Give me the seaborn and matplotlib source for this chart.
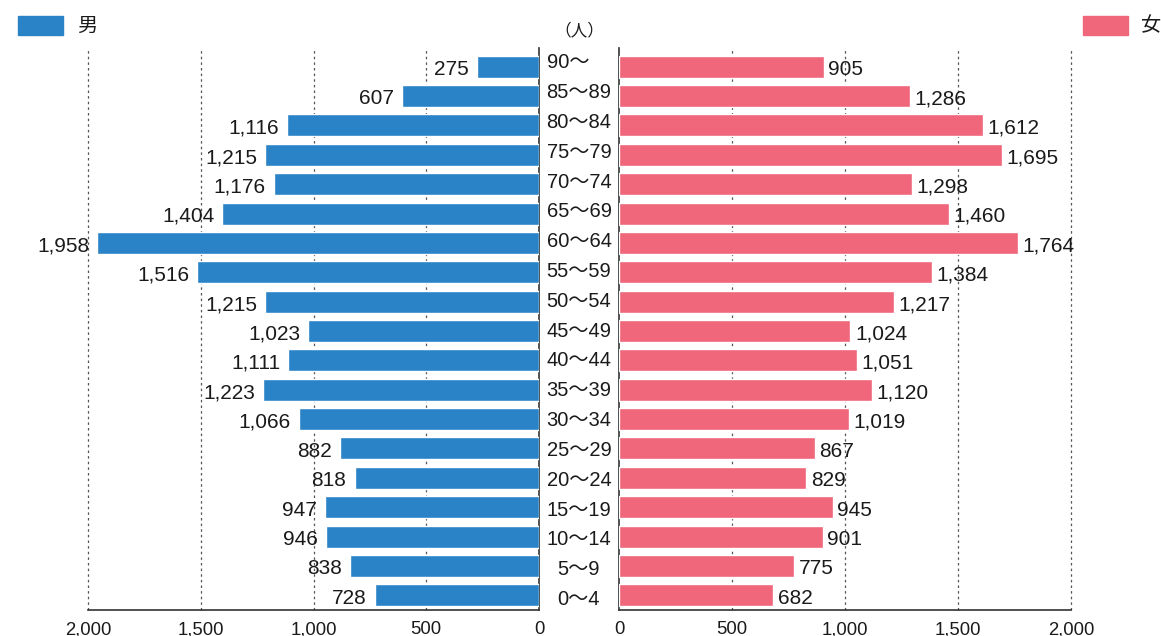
import matplotlib
matplotlib.use("Agg")
import matplotlib.pyplot as plt
import seaborn as sns
import pandas as pd
from matplotlib.patches import Rectangle
from matplotlib.ticker import FuncFormatter

ages = ["90～", "85～89", "80～84", "75～79", "70～74", "65～69", "60～64", "55～59",
        "50～54", "45～49", "40～44", "35～39", "30～34", "25～29", "20～24", "15～19",
        "10～14", "5～9", "0～4"]
male = [275, 607, 1116, 1215, 1176, 1404, 1958, 1516, 1215, 1023, 1111, 1223, 1066,
        882, 818, 947, 946, 838, 728]
female = [905, 1286, 1612, 1695, 1298, 1460, 1764, 1384, 1217, 1024, 1051, 1120, 1019,
          867, 829, 945, 901, 775, 682]
ticks = [0, 500, 1000, 1500, 2000]

sns.set_theme(style="white")
FAM = ["Liberation Sans", "Noto Sans CJK JP", "DejaVu Sans"]
plt.rcParams["font.family"] = FAM

BLUE = "#2a83c6"
PINK = "#f0667b"
TXT = "#1a1a1a"

W, H = 1161, 636
TOP, BOT = 52, 610
fig = plt.figure(figsize=(W / 100, H / 100), dpi=100)

def rect(x0, y0, x1, y1):
    return [x0 / W, 1 - y1 / H, (x1 - x0) / W, (y1 - y0) / H]

axL = fig.add_axes(rect(88, TOP, 539, BOT))
axR = fig.add_axes(rect(619, TOP, 1071, BOT))

dfm = pd.DataFrame({"age": ages, "v": male})
dff = pd.DataFrame({"age": ages, "v": female})

sns.barplot(data=dfm, x="v", y="age", order=ages, color=BLUE, saturation=1,
            width=0.75, ax=axL, zorder=3)
sns.barplot(data=dff, x="v", y="age", order=ages, color=PINK, saturation=1,
            width=0.75, ax=axR, zorder=3)

fmt = FuncFormatter(lambda v, p: f"{int(v):,}")
top_ext = -0.5 - 4 / ((BOT - TOP) / len(ages))
for ax, vals, side in ((axL, male, "L"), (axR, female, "R")):
    ax.set_xlim(0, 2000)
    ax.set_xticks(ticks)
    ax.xaxis.set_major_formatter(fmt)
    ax.set_yticks([])
    ax.set_xlabel("")
    ax.set_ylabel("")
    ax.set_ylim(len(ages) - 0.5, -0.5)
    for s in ax.spines.values():
        s.set_visible(False)
    ax.spines["bottom"].set_visible(True)
    ax.spines["bottom"].set_color("#333333")
    ax.spines["bottom"].set_linewidth(1.2)
    ax.tick_params(axis="x", length=0, pad=8, labelsize=13.3, colors=TXT)
    for t in ticks[1:]:
        ax.plot([t, t], [len(ages) - 0.5, top_ext], color="#555555", lw=0.9,
                ls=(0, (2, 2.5)), zorder=1, clip_on=False)
    for i, v in enumerate(vals):
        if side == "L":
            ax.text(v + 36, i + 0.1, f"{v:,}", ha="right", va="center",
                    fontsize=15, color=TXT)
        else:
            ax.text(v + 20, i + 0.1, f"{v:,}", ha="left", va="center",
                    fontsize=15, color=TXT)

axL.invert_xaxis()
for ax, sp in ((axL, "right"), (axR, "left")):
    ax.spines[sp].set_visible(True)
    ax.spines[sp].set_color("#333333")
    ax.spines[sp].set_linewidth(1.2)
    ax.spines[sp].set_bounds(len(ages) - 0.5, top_ext)

# age labels in the centre column
for i, a in enumerate(ages):
    y_pix = 63 + i * 29.8
    if a.endswith("～"):
        fig.text(547 / W, 1 - y_pix / H, a, ha="left", va="center",
                 fontsize=14.5, color=TXT, family=FAM)
    else:
        fig.text(579 / W, 1 - y_pix / H, a, ha="center", va="center",
                 fontsize=14.5, color=TXT, family=FAM)

fig.text(579 / W, 1 - 31 / H, "（人）", ha="center", va="center",
         fontsize=12, color=TXT, family=["Noto Sans CJK JP", "DejaVu Sans"])

# legends
fig.patches.append(Rectangle((18 / W, 1 - 35 / H), 45 / W, 19 / H,
                             transform=fig.transFigure, color=BLUE))
fig.text(77 / W, 1 - 26 / H, "男", ha="left", va="center", fontsize=14.5,
         color=TXT, family=["Noto Sans CJK JP", "DejaVu Sans"])
fig.patches.append(Rectangle((1083 / W, 1 - 35 / H), 45 / W, 19 / H,
                             transform=fig.transFigure, color=PINK))
fig.text(1141 / W, 1 - 26 / H, "女", ha="left", va="center", fontsize=14.5,
         color=TXT, family=["Noto Sans CJK JP", "DejaVu Sans"])

fig.savefig("out.png", dpi=100)
